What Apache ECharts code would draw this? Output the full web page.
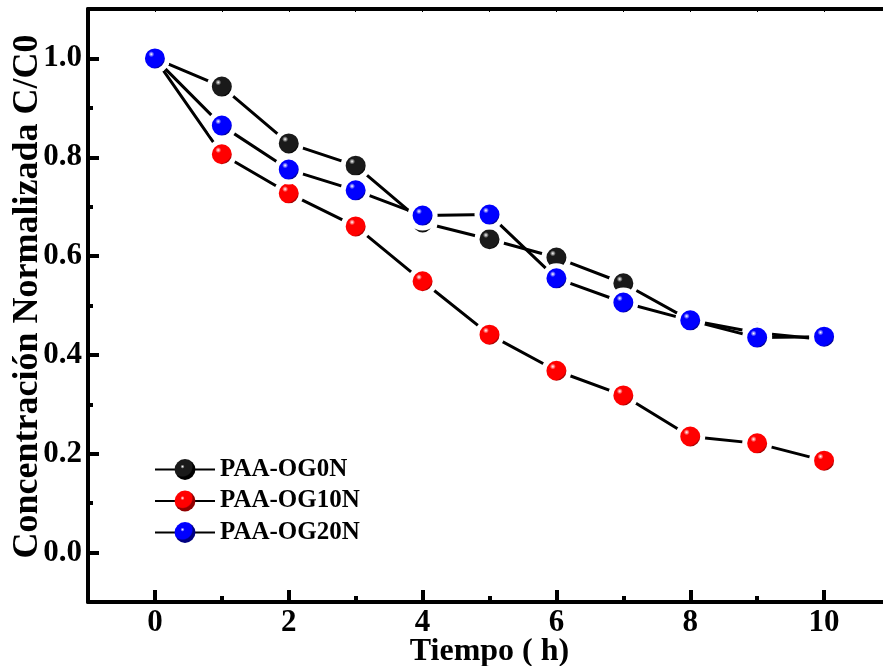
<!DOCTYPE html>
<html>
<head>
<meta charset="utf-8">
<script src="https://cdn.jsdelivr.net/npm/echarts@6/dist/echarts.min.js"></script>
<style>html,body{margin:0;padding:0;background:#fff;}#c{width:883px;height:666px;}</style>
</head>
<body>
<div id="c"></div>
<script>
const times = [0, 1, 2, 3, 4, 5, 6, 7, 8, 9, 10];
const og0n = [1.0, 0.943, 0.828, 0.783, 0.668, 0.634, 0.597, 0.545, 0.470, 0.445, 0.431];
const og10n = [1.0, 0.806, 0.727, 0.660, 0.549, 0.441, 0.368, 0.318, 0.235, 0.221, 0.186];
const og20n = [1.0, 0.864, 0.775, 0.733, 0.682, 0.684, 0.555, 0.506, 0.470, 0.435, 0.437];
const seriesNames = ['PAA-OG0N', 'PAA-OG10N', 'PAA-OG20N'];
const xMajor = [0, 2, 4, 6, 8, 10];
const xMinor = [1, 3, 5, 7, 9];
const yMajor = [0, 0.2, 0.4, 0.6, 0.8, 1.0];
const yMinor = [-0.1, 0.1, 0.3, 0.5, 0.7, 0.9, 1.1];

const font = '"Liberation Serif", "Times New Roman", serif';
function sphere(base, dark) {
  return {
    type: 'radial', x: 0.38, y: 0.36, r: 0.62,
    colorStops: [
      {offset: 0, color: '#ffffff'},
      {offset: 0.16, color: base},
      {offset: 0.72, color: base},
      {offset: 0.82, color: dark},
      {offset: 1, color: dark}
    ]
  };
}
const colors = [sphere('#1a1a1a', '#000000'), sphere('#ff0000', '#900000'), sphere('#0000ff', '#000080')];
const allData = [og0n, og10n, og20n];

const chart = echarts.init(document.getElementById('c'), null, {renderer: 'canvas'});
const series = allData.map((vals, i) => ({
  name: seriesNames[i],
  type: 'line',
  xAxisIndex: 0,
  yAxisIndex: 0,
  data: times.map((t, k) => [t, vals[k]]),
  symbol: 'circle',
  symbolSize: 25,
  showAllSymbol: true,
  lineStyle: {color: '#000', width: 3},
  itemStyle: {color: colors[i], borderColor: '#ffffff', borderWidth: 5},
  z: 2 + i,
  animation: false
}));

const axisLbl = {fontFamily: font, fontWeight: 'bold', fontSize: 31, color: '#000'};
chart.setOption({
  animation: false,
  backgroundColor: '#fff',
  grid: {left: 88, top: 9, bottom: 64, right: -8, containLabel: false, outerBoundsMode: 'none'},
  legend: {
    orient: 'vertical', left: 149, top: 452,
    itemWidth: 60, itemHeight: 26, itemGap: 6.5, itemTextGap: 6,
    data: seriesNames.map(n => ({name: n, itemStyle: {borderWidth: 0}})),
    textStyle: {fontFamily: font, fontWeight: 'bold', fontSize: 25, color: '#000'}
  },
  xAxis: [
    {
      type: 'value', min: -1, max: 11, position: 'bottom',
      name: 'Tiempo ( h)', nameLocation: 'middle', nameGap: 34, nameMoveOverlap: false,
      nameTextStyle: {fontFamily: font, fontWeight: 'bold', fontSize: 32, color: '#000'},
      axisLine: {show: true, onZero: false, lineStyle: {color: '#000', width: 4}},
      axisTick: {show: true, inside: true, length: 12, customValues: xMajor, lineStyle: {color: '#000', width: 4}},
      axisLabel: Object.assign({customValues: xMajor, margin: 5}, axisLbl),
      splitLine: {show: false}
    },
    {
      type: 'value', min: -1, max: 11, position: 'bottom',
      axisLine: {show: false, onZero: false},
      axisTick: {show: true, inside: true, length: 6, customValues: xMinor, lineStyle: {color: '#000', width: 4}},
      axisLabel: {show: false},
      splitLine: {show: false}
    },
    {
      type: 'value', min: -1, max: 11, position: 'top',
      axisLine: {show: true, onZero: false, lineStyle: {color: '#000', width: 4}},
      axisTick: {show: true, inside: true, length: 3, customValues: [0,1,2,3,4,5,6,7,8,9,10], lineStyle: {color: '#000', width: 1}},
      axisLabel: {show: false},
      splitLine: {show: false}
    }
  ],
  yAxis: [
    {
      type: 'value', min: -0.1, max: 1.1, position: 'left',
      name: 'Concentración Normalizada C/C0', nameLocation: 'middle', nameGap: 42, nameMoveOverlap: false,
      nameTextStyle: {fontFamily: font, fontWeight: 'bold', fontSize: 36, color: '#000', padding: [0, 0, 0, 18]},
      axisLine: {show: true, onZero: false, lineStyle: {color: '#000', width: 4}},
      axisTick: {show: true, inside: true, length: 11, customValues: yMajor, lineStyle: {color: '#000', width: 4}},
      axisLabel: Object.assign({customValues: yMajor, margin: 6, formatter: v => v.toFixed(1)}, axisLbl),
      splitLine: {show: false}
    },
    {
      type: 'value', min: -0.1, max: 1.1, position: 'left',
      axisLine: {show: false, onZero: false},
      axisTick: {show: true, inside: true, length: 5, customValues: yMinor, lineStyle: {color: '#000', width: 4}},
      axisLabel: {show: false},
      splitLine: {show: false}
    }
  ],
  series: series
});
</script>
</body>
</html>
